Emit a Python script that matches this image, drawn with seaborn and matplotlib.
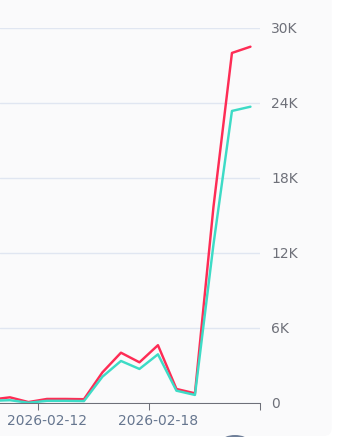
import numpy as np
import pandas as pd
import matplotlib
matplotlib.use("Agg")
import matplotlib.pyplot as plt
import seaborn as sns
from matplotlib.patches import FancyBboxPatch, Ellipse

dates = ['2026-02-09', '2026-02-10', '2026-02-11', '2026-02-12', '2026-02-13',
         '2026-02-14', '2026-02-15', '2026-02-16', '2026-02-17', '2026-02-18',
         '2026-02-19', '2026-02-20', '2026-02-21', '2026-02-22', '2026-02-23']
series_red = [250, 430, 50, 300, 300, 280, 2430, 4000, 3230, 4600, 1100, 750, 15650, 27980, 28480]
series_teal = [150, 200, 0, 150, 150, 130, 2080, 3340, 2700, 3870, 960, 620, 12650, 23340, 23680]
label_dates = ['2026-02-12', '2026-02-18']
y_ticks = [0, 6000, 12000, 18000, 24000, 30000]
y_tick_labels = ['0', '6K', '12K', '18K', '24K', '30K']

RED = '#fe2c55'
TEAL = '#3ddbc6'

sns.set_style("white")
plt.rcParams['font.family'] = ['DejaVu Sans']

df = pd.DataFrame({
    'date': dates * 2,
    'pos': list(range(len(dates))) * 2,
    'value': series_red + series_teal,
    'series': ['a'] * len(dates) + ['b'] * len(dates),
})

fig = plt.figure(figsize=(3.38, 4.37), dpi=100, facecolor='white')

# rounded panel background
panel = FancyBboxPatch((-20, 1), 351.7, 470, boxstyle='round,pad=0,rounding_size=8',
                       transform=None, facecolor='#fafafb', edgecolor='none', zorder=-5)
fig.patches.append(panel)
knob = Ellipse((235, -4), 26, 12, transform=None, facecolor='#6f7f99', edgecolor='none', zorder=5)
fig.patches.append(knob)

ax = fig.add_axes([0, (437 - 402.7) / 437, 259.7 / 338, 375.0 / 437])
ax.set_facecolor('none')

sns.lineplot(data=df, x='pos', y='value', hue='series', palette={'a': RED, 'b': TEAL},
             linewidth=1.75, legend=False, ax=ax, sort=False, clip_on=True)

ax.set_xlim(0.462, len(dates) - 0.5)
ax.set_ylim(0, 30000)

# y axis on right
ax.yaxis.tick_right()
ax.set_yticks(y_ticks)
ax.set_yticklabels(y_tick_labels)
ax.tick_params(axis='y', length=0, pad=8.2, labelsize=10, labelcolor='#6e7079')
ax.grid(axis='y', color='#e0e6f1', linewidth=1.0)
ax.grid(axis='x', visible=False)

# x axis: tick marks at band boundaries, labels at band centres
label_pos = [dates.index(d) for d in label_dates]
ax.set_xticks([p - 0.5 for p in label_pos] + [len(dates) - 0.5])
ax.set_xticklabels([''] * (len(label_pos) + 1))
ax.tick_params(axis='x', which='major', bottom=True, length=5, width=0.75,
               color='#6e7079', direction='out')
ax.set_xticks(label_pos, minor=True)
ax.set_xticklabels(label_dates, minor=True)
ax.tick_params(axis='x', which='minor', bottom=True, length=0, pad=8, labelsize=10,
               labelcolor='#66768f')

for s in ['top', 'right', 'left']:
    ax.spines[s].set_visible(False)
ax.spines['bottom'].set_color('#6e7079')
ax.spines['bottom'].set_linewidth(0.75)
ax.spines['bottom'].set_zorder(3)

ax.set_xlabel('')
ax.set_ylabel('')

fig.savefig('out.png', dpi=100, facecolor='white')
